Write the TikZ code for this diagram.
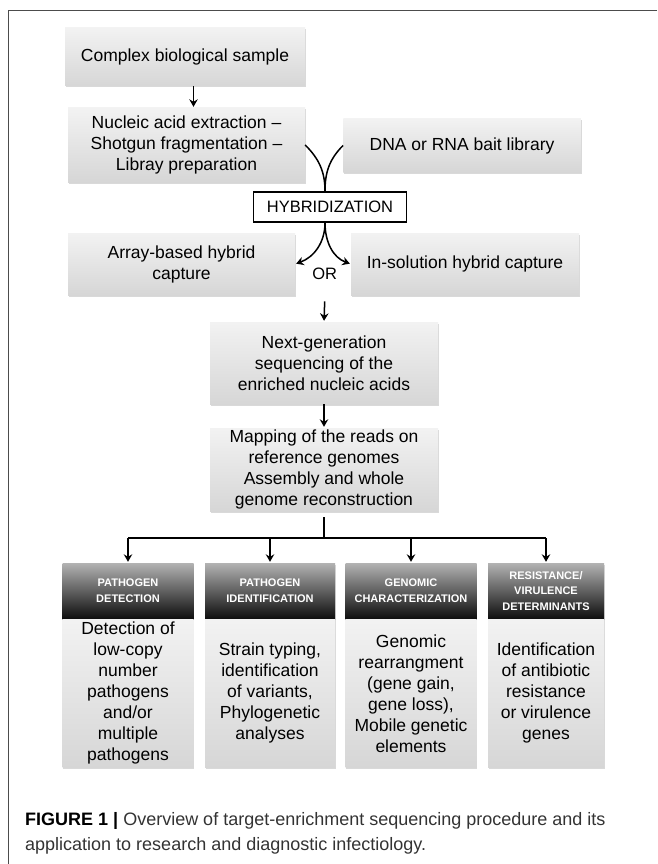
\documentclass[tikz,border=0pt]{standalone}
\usepackage{fontspec}
\setmainfont{Liberation Sans}
\usepackage{tikz}
\usetikzlibrary{arrows.meta,positioning,shadows}

\begin{document}
\begin{tikzpicture}[x=1pt,y=1pt,>={Stealth[length=7.5pt,width=8.5pt,inset=2.5pt]},
        link/.style={line width=1.5pt},
        arr/.style={->,link,shorten >=1pt},
        box/.style={rectangle,inner sep=0pt,align=center,
            top color=gray!10,bottom color=gray!32,
            drop shadow={opacity=0.3,shadow xshift=0.8pt,shadow yshift=-1.5pt},
            font=\fontsize{17.5}{21}\selectfont},
        cathead/.style={rectangle,inner sep=0pt,align=center,minimum height=56pt,
            top color=gray!60,bottom color=black!95,text=white,
            drop shadow={opacity=0.3,shadow xshift=0.8pt,shadow yshift=-1.5pt},
            font=\fontsize{11}{15.7}\selectfont\bfseries},
        catbody/.style={box,minimum height=148pt,below=0pt of #1}]

  \useasboundingbox (0,0) rectangle (657,-864);
  \draw[gray!60!black,line width=0.8pt] (657,-10) -- (8,-10) -- (8,-864);

  \node[box,minimum width=240pt,minimum height=58pt] (sample) at (185,-57) {Complex biological sample};
  \node[box,minimum width=237pt,minimum height=74pt] (extract) at (186.5,-145)
        {Nucleic acid extraction –\\Shotgun fragmentation –\\Libray preparation};
  \node[box,minimum width=237.5pt,minimum height=53pt] (bait) at (462,-145.5) {DNA or RNA bait library};
  \node[draw,link,fill=white,inner sep=0pt,minimum width=153pt,minimum height=30pt,
        font=\fontsize{16.5}{20}\selectfont] (hyb) at (330,-207) {HYBRIDIZATION};
  \node[box,minimum width=227pt,minimum height=62pt] (array) at (181.5,-264) {Array-based hybrid\\capture};
  \node[box,minimum width=228pt,minimum height=62pt] (insol) at (465,-264) {In-solution hybrid capture};
  \node[font=\fontsize{16.5}{20}\selectfont] (orlbl) at (324.7,-274) {OR};
  \node[box,minimum width=228pt,minimum height=82pt] (ngs) at (324,-363)
        {Next-generation\\sequencing of the\\enriched nucleic acids};
  \node[box,minimum width=228pt,minimum height=83pt] (map) at (324,-469.5)
        {Mapping of the reads on\\reference genomes\\Assembly and whole\\genome reconstruction};

  \node[cathead,minimum width=131pt] (h1) at (128,-591) {PATHOGEN\\DETECTION};
  \node[cathead,minimum width=130pt] (h2) at (270,-591) {PATHOGEN\\IDENTIFICATION};
  \node[cathead,minimum width=131pt] (h3) at (411,-591) {GENOMIC\\CHARACTERIZATION};
  \node[cathead,minimum width=116pt] (h4) at (546,-591) {RESISTANCE/\\VIRULENCE\\DETERMINANTS};

  \node[catbody=h1,minimum width=131pt] (b1)
        {Detection of\\low-copy\\number\\pathogens\\and/or\\multiple\\pathogens};
  \node[catbody=h2,minimum width=130pt] (b2)
        {Strain typing,\\identification\\of variants,\\Phylogenetic\\analyses};
  \node[catbody=h3,minimum width=131pt] (b3)
        {Genomic\\rearrangment\\(gene gain,\\gene loss),\\Mobile genetic\\elements};
  \node[catbody=h4,minimum width=116pt] (b4)
        {Identification\\of antibiotic\\resistance\\or virulence\\genes};

  \coordinate (join) at ([xshift=-5pt]hyb.north);
  \coordinate (fork) at ([xshift=-5pt]hyb.south);
  \coordinate (bus) at ([yshift=-27pt]map.south);

  \draw[arr] ([xshift=8.5pt]sample.south) -- ([xshift=8.5pt]sample.south |- extract.north);
  \draw[link] (extract.east) to[out=-45,in=90] (join);
  \draw[link] (bait.west) to[out=-135,in=90] (join);
  \draw[arr] (fork) to[out=-90,in=20] (array.east);
  \draw[arr] (fork) to[out=-90,in=160] (insol.west);
  \draw[arr] (orlbl.south) ++(0,-18pt) -- (ngs.north);
  \draw[arr] (ngs.south) -- (map.north);
  \draw[link] ([yshift=-6pt]map.south) -- (bus);
  \draw[link] (h1.north |- bus) -- (h4.north |- bus);
  \foreach \h in {h1,h2,h3,h4}
    \draw[arr] (\h.north |- bus) -- (\h.north);

  \node[anchor=west,inner sep=0pt,align=left,text=black!80,
        font=\fontsize{18}{25}\selectfont] (caption) at (25,-833.5)
        {{\color{black}\bfseries FIGURE 1 |} Overview of target-enrichment sequencing procedure and its\\
         application to research and diagnostic infectiology.};

\end{tikzpicture}
\end{document}
